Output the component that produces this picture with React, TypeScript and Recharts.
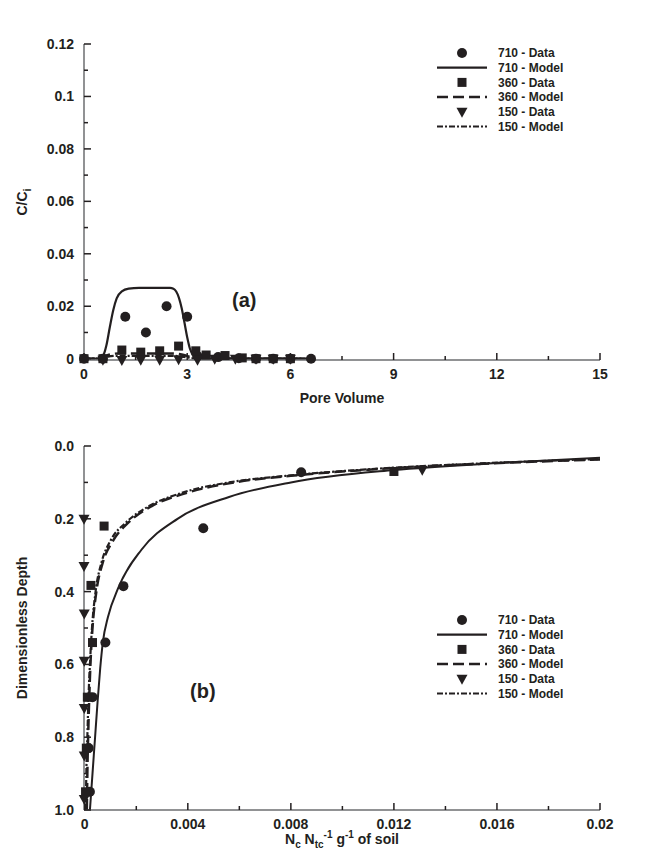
import React from 'react';
import { ComposedChart, Line, Scatter, XAxis, YAxis, Legend, Label } from 'recharts';

const FONT = '"Liberation Sans", Arial, Helvetica, sans-serif';
const INK = '#231f20';
const AXIS = '#6d6e71';

// ---------- panel (a): effluent concentration vs pore volume ----------
const pvTicks = [0, 1.5, 3, 4.5, 6, 7.5, 9, 10.5, 12, 13.5, 15];
const pvLabels = [0, 3, 6, 9, 12, 15];
const ccTicks = [0, 0.01, 0.02, 0.03, 0.04, 0.05, 0.06, 0.07, 0.08, 0.09, 0.1, 0.11, 0.12];
const ccLabels = [0, 0.02, 0.04, 0.06, 0.08, 0.1, 0.12];

const a710Data = [[0, 0], [0.55, 0], [1.2, 0.016], [1.8, 0.01], [2.4, 0.02], [3.0, 0.016], [3.3, 0.001],
  [3.9, 0.0006], [4.5, 0.0002], [5.0, 0], [5.5, 0], [6.0, 0], [6.6, 0]];
const a360Data = [[0, 0], [0.55, 0], [1.1, 0.0033], [1.65, 0.0025], [2.2, 0.003], [2.75, 0.0048],
  [3.25, 0.003], [3.55, 0.0014], [4.1, 0.0012], [4.6, 0.0003], [5.0, 0], [5.5, 0], [6.0, 0]];
const a150Data = [[0.55, -0.0004], [1.1, -0.0005], [1.65, -0.0004], [2.2, -0.0004], [2.75, -0.0002],
  [3.3, -0.0004], [3.8, 0], [4.4, 0], [5.0, 0], [5.5, 0], [6.0, 0]];
const a710Model = [[0, 0], [0.45, 0], [0.55, 0.001], [0.65, 0.005], [0.75, 0.012], [0.85, 0.0185],
  [0.95, 0.023], [1.1, 0.0257], [1.3, 0.0267], [1.6, 0.027], [2.5, 0.027], [2.6, 0.0267],
  [2.68, 0.0256], [2.76, 0.0232], [2.84, 0.0192], [2.92, 0.0138], [3.0, 0.0082], [3.08, 0.0038],
  [3.18, 0.0012], [3.3, 0.0002], [3.5, 0], [6.6, 0]];
const a360Model = [[0, 0], [0.5, 0], [0.7, 0.0014], [1.0, 0.002], [2.6, 0.002], [2.9, 0.0014],
  [3.2, 0.0003], [3.5, 0], [6.6, 0]];
const a150Model = [[0, 0], [0.5, 0], [0.7, 0.0008], [1.0, 0.0011], [2.6, 0.0011], [2.9, 0.0007],
  [3.2, 0.0001], [3.5, 0], [6.6, 0]];

// ---------- panel (b): depth profiles ----------
const nTicks = [0, 0.002, 0.004, 0.006, 0.008, 0.01, 0.012, 0.014, 0.016, 0.018, 0.02];
const nLabels = [0, 0.004, 0.008, 0.012, 0.016, 0.02];
const dTicks = [0, 0.1, 0.2, 0.3, 0.4, 0.5, 0.6, 0.7, 0.8, 0.9, 1];
const dLabels = [0, 0.2, 0.4, 0.6, 0.8, 1];

const b710Data = [[0.0084, 0.072], [0.0046, 0.226], [0.0015, 0.385], [0.0008, 0.54],
  [0.0003, 0.69], [0.00015, 0.83], [0.0002, 0.95]];
const b360Data = [[0.012, 0.07], [0.00075, 0.22], [0.00024, 0.383], [0.0003, 0.54],
  [0.0001, 0.69], [0.00006, 0.83], [0.00003, 0.95]];
const b150Data = [[0.0131, 0.065], [-0.00003, 0.2], [-0.00003, 0.33], [-0.00002, 0.46],
  [-0.00002, 0.59], [-0.00002, 0.72], [-0.00002, 0.85], [-0.00002, 0.97]];
const b710Model = [[0.0002, 1.0], [0.0003, 0.9], [0.0004, 0.8], [0.0005, 0.7], [0.0006, 0.61],
  [0.0007, 0.54], [0.0009, 0.47], [0.0013, 0.39], [0.0022, 0.285], [0.0036, 0.2],
  [0.0056, 0.14], [0.008, 0.1], [0.012, 0.066], [0.016, 0.047], [0.02, 0.032]];
const b360Model = [[0.00008, 1.0], [0.0001, 0.9], [0.00013, 0.8], [0.00017, 0.7], [0.00022, 0.6],
  [0.0003, 0.5], [0.00045, 0.4], [0.0007, 0.32], [0.0011, 0.26], [0.0017, 0.21], [0.0026, 0.165],
  [0.004, 0.128], [0.0058, 0.1], [0.008, 0.082], [0.011, 0.065], [0.015, 0.05], [0.02, 0.037]];
const b150Model = [[0.00004, 1.0], [0.00006, 0.9], [0.0001, 0.8], [0.00014, 0.7], [0.0002, 0.6],
  [0.00028, 0.5], [0.00042, 0.4], [0.00065, 0.32], [0.001, 0.26], [0.0016, 0.21], [0.0025, 0.165],
  [0.0038, 0.128], [0.0056, 0.1], [0.0078, 0.082], [0.011, 0.064], [0.015, 0.049], [0.02, 0.036]];

const legendNames = ['710 - Data', '710 - Model', '360 - Data', '360 - Model', '150 - Data', '150 - Model'];
const legendKinds = ['circle', 'solid', 'square', 'dash', 'tri', 'dashdot'];

const pts = (arr: number[][]) => arr.map(([x, y]) => ({ x, y }));

const DASH = '11 5';
const DASHDOT = '6 2 2 2';

const Dot = (p: any) => <circle cx={p.cx} cy={p.cy} r={5} fill={INK} />;
const Sq = (p: any) => <rect x={p.cx - 4.5} y={p.cy - 4.5} width={9} height={9} fill={INK} />;
const Tri = (p: any) => (
  <path d={`M${p.cx - 5.5},${p.cy - 4} L${p.cx + 5.5},${p.cy - 4} L${p.cx},${p.cy + 6} Z`} fill={INK} />
);

const isIn = (v: number, list: number[]) => list.some(l => Math.abs(l - v) < 1e-9);

const fmtA = (v: number) => String(v);
const fmtD = (v: number) => v.toFixed(1);

const MARGIN = 8;

const makeXTick = (labels: number[], fmt: (v: number) => string) => (props: any) => {
  const { x, y, payload } = props;
  const ay = y - MARGIN;
  const major = isIn(payload.value, labels);
  return (
    <g>
      <line x1={x} x2={x} y1={ay} y2={ay - (major ? 7 : 4)} stroke={INK} strokeWidth={1.5} />
      {major && (
        <text x={x} y={y} dy="0.75em" textAnchor="middle" fontFamily={FONT} fontWeight="bold"
              fontSize={14} fill={INK}>{fmt(payload.value)}</text>
      )}
    </g>
  );
};

const makeYTick = (labels: number[], fmt: (v: number) => string) => (props: any) => {
  const { x, y, payload } = props;
  const ax = x + MARGIN;
  const major = isIn(payload.value, labels);
  return (
    <g>
      <line x1={ax} x2={ax + (major ? 7 : 4)} y1={y} y2={y} stroke={INK} strokeWidth={1.5} />
      {major && (
        <text x={x - 2} y={y} dy="0.36em" textAnchor="end" fontFamily={FONT} fontWeight="bold"
              fontSize={14} fill={INK}>{fmt(payload.value)}</text>
      )}
    </g>
  );
};

const LegendBox = () => (
  <svg width={150} height={95} style={{ overflow: 'visible' }}>
    {legendNames.map((name, i) => {
      const cy = 9 + i * 14.7;
      const k = legendKinds[i];
      let sym: React.ReactNode = null;
      if (k === 'circle') sym = <Dot cx={32} cy={cy} />;
      if (k === 'square') sym = <Sq cx={32} cy={cy} />;
      if (k === 'tri') sym = <Tri cx={32} cy={cy} />;
      if (k === 'solid') sym = <line x1={7} x2={57} y1={cy} y2={cy} stroke={INK} strokeWidth={2.2} />;
      if (k === 'dash') sym = <line x1={7} x2={57} y1={cy} y2={cy} stroke={INK} strokeWidth={2.5} strokeDasharray={DASH} />;
      if (k === 'dashdot') sym = <line x1={7} x2={57} y1={cy} y2={cy} stroke={INK} strokeWidth={2.2} strokeDasharray={DASHDOT} />;
      return (
        <g key={name}>
          {sym}
          <text x={68} y={cy} dy="0.36em" fontFamily={FONT} fontWeight="bold" fontSize={12} fill={INK}>{name}</text>
        </g>
      );
    })}
  </svg>
);

export default function App() {
  const txt = { fontFamily: FONT, fontWeight: 'bold' as const, fill: INK };
  return (
    <div style={{ position: 'absolute', left: 0, top: 0, width: 647, height: 856, background: '#fff' }}>
      {/* (a) */}
      <div style={{ position: 'absolute', left: 0, top: 0 }}>
        <ComposedChart width={647} height={420} margin={{ top: 44, right: 47, bottom: 10, left: 10 }}>
          <XAxis type="number" dataKey="x" domain={[0, 15]} ticks={pvTicks} interval={0}
                 height={50} tickSize={0} tickMargin={MARGIN} stroke={AXIS} strokeWidth={1.5}
                 tick={makeXTick(pvLabels, fmtA)}>
            <Label content={(p: any) => (
              <text x={p.viewBox.x + p.viewBox.width / 2} y={p.viewBox.y + 43} textAnchor="middle"
                    fontSize={14} {...txt}>Pore Volume</text>
            )} />
          </XAxis>
          <YAxis type="number" dataKey="y" domain={[0, 0.12]} ticks={ccTicks} interval={0}
                 width={74} tickSize={0} tickMargin={MARGIN} stroke={AXIS} strokeWidth={1.5}
                 tick={makeYTick(ccLabels, fmtA)}>
            <Label content={(p: any) => {
              const cx = p.viewBox.x + 17, cy = p.viewBox.y + p.viewBox.height / 2;
              return (
                <text transform={`translate(${cx},${cy}) rotate(-90)`} textAnchor="middle" fontSize={14} {...txt}>
                  C/C<tspan fontSize={11} dy={4}>i</tspan>
                </text>
              );
            }} />
          </YAxis>
          <Legend layout="vertical" align="center" verticalAlign="middle" content={() => <LegendBox />}
                  wrapperStyle={{ left: 430, top: 44, width: 150, height: 95 }} />
          <Line data={pts(a710Model)} dataKey="y" type="monotone" stroke={INK} strokeWidth={2.2}
                dot={false} activeDot={false} isAnimationActive={false} />
          <Line data={pts(a360Model)} dataKey="y" type="monotone" stroke={INK} strokeWidth={2.5}
                strokeDasharray={DASH} dot={false} activeDot={false} isAnimationActive={false} />
          <Line data={pts(a150Model)} dataKey="y" type="monotone" stroke={INK} strokeWidth={2.2}
                strokeDasharray={DASHDOT} dot={false} activeDot={false} isAnimationActive={false} />
          <Scatter data={pts(a710Data)} dataKey="y" shape={Dot} isAnimationActive={false} />
          <Scatter data={pts(a360Data)} dataKey="y" shape={Sq} isAnimationActive={false} />
          <Scatter data={pts(a150Data)} dataKey="y" shape={Tri} isAnimationActive={false} />
        </ComposedChart>
        <svg style={{ position: 'absolute', left: 0, top: 0, pointerEvents: 'none' }} width={647} height={420}>
          <text x={232} y={307} fontSize={20} {...txt}>(a)</text>
        </svg>
      </div>

      {/* (b) */}
      <div style={{ position: 'absolute', left: 0, top: 420 }}>
        <ComposedChart width={647} height={436} margin={{ top: 26, right: 47, bottom: 6, left: 10 }}>
          <XAxis type="number" dataKey="x" domain={[0, 0.02]} ticks={nTicks} interval={0}
                 height={40} tickSize={0} tickMargin={MARGIN} stroke={AXIS} strokeWidth={1.5}
                 tick={makeXTick(nLabels, fmtA)}>
            <Label content={(p: any) => (
              <text x={p.viewBox.x + p.viewBox.width / 2} y={p.viewBox.y + 34} textAnchor="middle"
                    fontSize={14} {...txt}>
                N<tspan fontSize={10} dy={4}>c</tspan>
                <tspan dy={-4}> N</tspan><tspan fontSize={10} dy={4}>tc</tspan>
                <tspan fontSize={10} dy={-10}>-1</tspan>
                <tspan dy={6}> g</tspan><tspan fontSize={10} dy={-6}>-1</tspan>
                <tspan dy={6}> of soil</tspan>
              </text>
            )} />
          </XAxis>
          <YAxis type="number" dataKey="y" domain={[0, 1]} reversed ticks={dTicks} interval={0}
                 width={74} tickSize={0} tickMargin={MARGIN} stroke={AXIS} strokeWidth={1.5}
                 tick={makeYTick(dLabels, fmtD)}>
            <Label content={(p: any) => {
              const cx = p.viewBox.x + 17, cy = p.viewBox.y + p.viewBox.height / 2;
              return (
                <text transform={`translate(${cx},${cy}) rotate(-90)`} textAnchor="middle" fontSize={14} {...txt}>
                  Dimensionless Depth
                </text>
              );
            }} />
          </YAxis>
          <Legend layout="vertical" align="center" verticalAlign="middle" content={() => <LegendBox />}
                  wrapperStyle={{ left: 430, top: 191, width: 150, height: 95 }} />
          <Line data={pts(b710Model)} dataKey="y" type="monotone" stroke={INK} strokeWidth={2}
                dot={false} activeDot={false} isAnimationActive={false} />
          <Line data={pts(b360Model)} dataKey="y" type="monotone" stroke={INK} strokeWidth={2.5}
                strokeDasharray={DASH} dot={false} activeDot={false} isAnimationActive={false} />
          <Line data={pts(b150Model)} dataKey="y" type="monotone" stroke={INK} strokeWidth={2.2}
                strokeDasharray={DASHDOT} dot={false} activeDot={false} isAnimationActive={false} />
          <Scatter data={pts(b710Data)} dataKey="y" shape={Dot} isAnimationActive={false} />
          <Scatter data={pts(b360Data)} dataKey="y" shape={Sq} isAnimationActive={false} />
          <Scatter data={pts(b150Data)} dataKey="y" shape={Tri} isAnimationActive={false} />
        </ComposedChart>
        <svg style={{ position: 'absolute', left: 0, top: 0, pointerEvents: 'none' }} width={647} height={436}>
          <text x={190} y={278} fontSize={20} {...txt}>(b)</text>
        </svg>
      </div>
    </div>
  );
}
